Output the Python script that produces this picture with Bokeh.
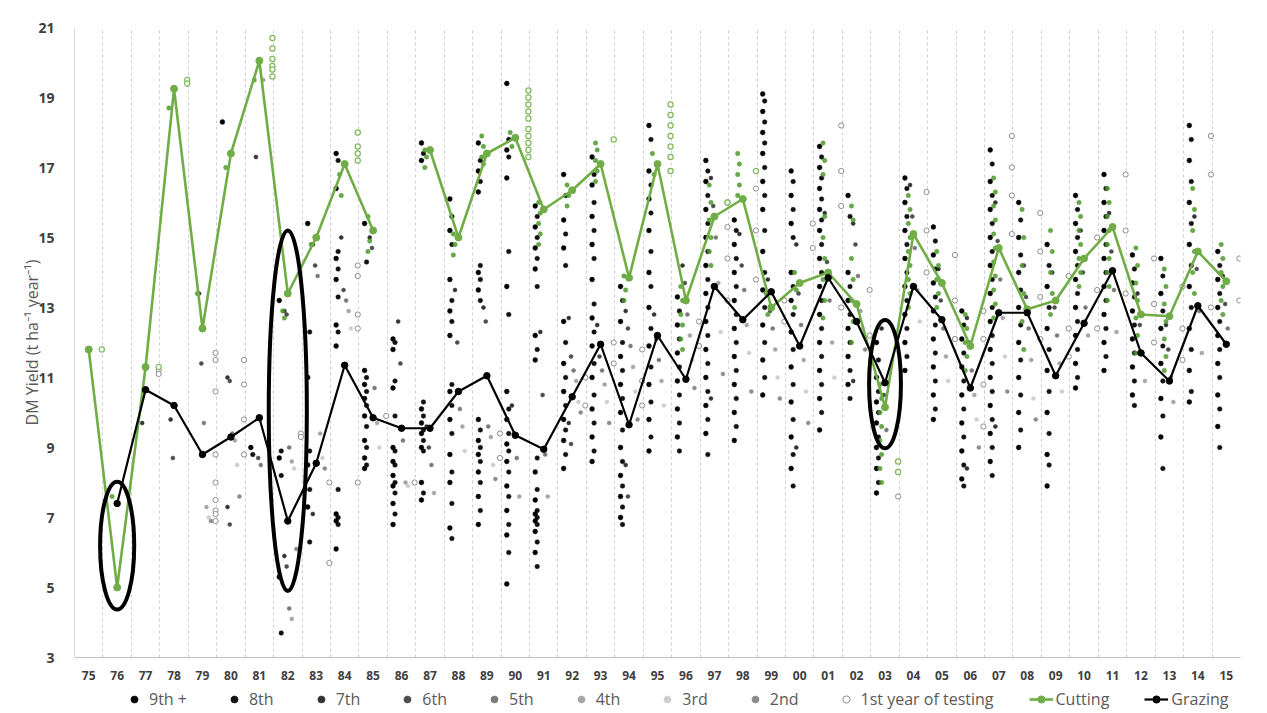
import math
from bokeh.plotting import figure
from bokeh.layouts import column
from bokeh.models import ColumnDataSource, FixedTicker, Legend, LegendItem
from bokeh.embed import file_html
from bokeh.resources import INLINE

nan = float("nan")

years = ["75", "76", "77", "78", "79", "80", "81", "82", "83", "84", "85", "86", "87", "88",
         "89", "90", "91", "92", "93", "94", "95", "96", "97", "98", "99", "00", "01", "02",
         "03", "04", "05", "06", "07", "08", "09", "10", "11", "12", "13", "14", "15"]

cutting = [11.8, 5.0, 11.3, 19.25, 12.4, 17.4, 20.05, 13.4, 15.0, 17.1, 15.2, nan, 17.5, 15.0,
           17.4, 17.85, 15.8, 16.35, 17.1, 13.85, 17.1, 13.2, 15.6, 16.1, 13.0, 13.7, 14.0, 13.1,
           10.15, 15.1, 13.7, 11.9, 14.7, 12.95, 13.2, 14.4, 15.3, 12.8, 12.75, 14.6, 13.75]

grazing = [nan, 7.4, 10.65, 10.2, 8.8, 9.3, 9.85, 6.9, 8.55, 11.35, 9.85, 9.55, 9.55, 10.6,
           11.05, 9.35, 8.95, 10.45, 11.95, 9.65, 12.2, 10.95, 13.6, 12.65, 13.45, 11.9, 13.85, 12.6,
           10.85, 13.6, 12.65, 10.7, 12.85, 12.85, 11.05, 12.55, 14.05, 11.7, 10.9, 13.05, 11.95]

# individual trial values (black dots: 9th + / 8th year of testing)
graz_dark = [
    [], [], [], [], [], [18.3], [9.0, 8.8],
    [13.2, 8.9, 8.7, 8.2, 5.3, 3.7],
    [15.4, 12.3, 11.0, 8.9, 8.5, 7.8, 7.3, 6.3],
    [17.4, 17.2, 16.4, 14.6, 14.4, 14.1, 13.8, 13.3, 12.5, 12.3, 11.9, 7.8, 7.1, 7.0, 6.9, 6.8, 6.1],
    [15.4, 14.3, 11.2, 11.0, 10.8, 10.6, 10.4, 10.2, 9.9, 9.6, 9.2, 9.0, 8.7, 8.5, 8.4],
    [12.1, 12.0, 11.8, 10.9, 10.7, 9.9, 9.0, 8.9, 8.6, 8.5, 8.2, 8.0, 7.9, 7.7, 7.4, 7.1, 6.8],
    [17.7, 17.4, 17.2, 10.3, 10.1, 9.9, 9.7, 9.5, 9.4, 9.2, 9.0, 8.9, 8.0, 7.7, 7.5],
    [16.1, 15.6, 15.2, 14.8, 13.8, 13.2, 12.9, 12.6, 12.2, 10.8, 10.6, 10.2, 9.8, 9.4, 8.8, 8.3, 8.0, 7.4, 6.7, 6.4],
    [17.7, 17.2, 16.9, 16.6, 16.3, 14.2, 14.0, 13.8, 13.5, 13.2, 9.8, 9.5, 9.2, 9.0, 8.8, 8.6, 8.3, 8.0, 7.6, 7.2, 6.8],
    [19.4, 17.8, 17.5, 17.3, 16.7, 14.6, 13.6, 12.8, 10.6, 10.1, 9.8, 9.4, 9.1, 8.9, 8.6, 8.3, 7.9, 7.6, 7.2, 6.8, 6.5, 6.0, 5.1],
    [15.9, 15.6, 15.3, 15.0, 14.7, 14.4, 14.1, 13.6, 12.2, 11.8, 11.5, 8.7, 8.3, 7.8, 7.5, 7.2, 7.1, 7.0, 6.9, 6.8, 6.6, 6.3, 6.0, 5.6],
    [16.8, 16.2, 15.5, 15.1, 14.7, 14.2, 12.6, 12.0, 11.4, 11.0, 10.6, 10.2, 9.8, 9.5, 9.2, 8.8, 8.4],
    [17.3, 16.8, 16.5, 16.0, 15.6, 15.2, 14.8, 14.4, 13.8, 13.1, 12.7, 12.3, 11.9, 11.4, 11.0, 10.5, 10.1, 9.7, 9.3, 8.9, 8.6],
    [13.6, 13.2, 12.6, 12.0, 11.6, 11.2, 10.8, 10.4, 10.0, 9.5, 9.0, 8.6, 8.2, 7.9, 7.6, 7.3, 7.0, 6.8],
    [18.2, 17.8, 16.9, 16.5, 16.1, 15.7, 15.2, 14.6, 14.0, 13.6, 13.0, 12.4, 11.9, 11.3, 10.8, 10.3, 9.8, 9.3, 8.9],
    [13.3, 12.9, 12.5, 12.1, 11.7, 11.3, 10.9, 10.5, 10.1, 9.7, 9.3, 8.9],
    [17.2, 16.9, 16.6, 16.2, 15.8, 15.4, 15.0, 14.6, 14.2, 13.8, 13.4, 13.0, 12.6, 12.2, 11.8, 11.4, 11.0, 10.6, 10.2, 9.8, 9.4, 8.8],
    [15.5, 15.2, 14.8, 14.4, 14.0, 13.6, 13.2, 12.8, 12.4, 12.0, 11.6, 11.2, 10.8, 10.4, 10.0, 9.6, 9.2],
    [19.1, 18.9, 18.6, 18.3, 18.0, 17.7, 17.4, 17.0, 16.6, 16.2, 15.8, 15.2, 14.6, 14.0, 13.5, 13.0, 12.5, 12.0, 11.5, 11.0, 10.5],
    [16.9, 16.6, 16.2, 15.8, 15.4, 15.0, 14.0, 13.6, 13.2, 12.8, 12.3, 11.8, 11.3, 10.8, 10.3, 9.8, 9.3, 8.8, 8.4, 7.9],
    [17.6, 17.3, 17.0, 16.7, 16.4, 16.1, 15.8, 15.5, 15.2, 14.8, 14.4, 14.0, 13.6, 13.2, 12.8, 12.4, 12.0, 11.6, 11.2, 10.8, 10.4, 10.0, 9.5],
    [16.2, 15.6, 14.0, 13.6, 13.2, 12.8, 12.4, 12.0, 11.6, 11.2, 10.8, 10.4],
    [12.0, 11.5, 11.0, 10.6, 10.3, 10.0, 9.7, 9.3, 9.0, 8.7, 8.4, 8.0, 7.7],
    [16.7, 16.4, 16.0, 15.6, 15.2, 14.8, 14.4, 14.0, 13.6, 13.2, 12.8, 12.4, 12.0, 11.6, 11.2],
    [15.3, 14.9, 14.5, 14.1, 13.7, 13.3, 12.9, 12.5, 12.1, 11.7, 11.3, 10.9, 10.5, 10.1, 9.8],
    [12.9, 12.5, 12.1, 11.7, 11.3, 10.9, 10.5, 10.1, 9.7, 9.3, 8.9, 8.5, 8.1, 7.9],
    [17.5, 17.1, 16.6, 16.2, 15.8, 15.4, 15.0, 14.6, 14.2, 13.8, 13.4, 13.0, 12.6, 12.2, 11.8, 11.4, 11.0, 10.6, 10.2, 9.8, 9.4, 9.0, 8.6, 8.2],
    [16.0, 15.5, 15.0, 14.5, 14.0, 13.5, 13.0, 12.5, 12.0, 11.5, 11.0, 10.5, 10.0, 9.5, 9.0],
    [14.8, 14.2, 13.6, 13.0, 12.4, 11.8, 11.2, 10.6, 10.0, 9.4, 8.8, 8.5, 7.9],
    [16.2, 15.8, 15.4, 15.0, 14.6, 14.2, 13.8, 13.4, 13.0, 12.6, 12.2, 11.8, 11.4, 11.0, 10.7],
    [16.8, 16.4, 16.0, 15.6, 15.2, 14.8, 14.4, 14.0, 13.6, 13.2, 12.8, 12.4, 12.0, 11.6, 11.2],
    [14.5, 14.1, 13.7, 13.3, 12.9, 12.5, 12.1, 11.7, 11.3, 10.9, 10.5, 10.2],
    [14.4, 13.9, 13.4, 12.9, 12.4, 11.9, 11.4, 10.9, 10.4, 9.9, 9.3, 8.4],
    [18.2, 17.8, 17.2, 16.6, 16.0, 15.4, 14.8, 14.2, 13.6, 13.0, 12.4, 11.8, 11.2, 10.6, 10.3],
    [14.6, 14.2, 13.8, 13.4, 13.0, 12.6, 12.2, 11.8, 11.4, 11.0, 10.5, 10.1, 9.6, 9.0],
]

# grey dots (7th .. 2nd year of testing)
graz_gray = [
    [], [], [9.7], [9.8, 8.7], [13.4, 11.4, 9.7, 7.3, 7.0, 6.9],
    [11.0, 10.9, 9.4, 9.2, 8.5, 7.6, 7.3, 6.8], [17.3, 8.7, 8.5, 19.5],
    [12.9, 12.8, 9.0, 8.6, 8.4, 6.1, 5.9, 5.6, 4.4, 4.1], [14.8, 14.2, 13.9, 9.4, 8.7, 8.4, 7.1],
    [15.0, 13.5, 13.2, 12.9, 12.4], [15.0, 14.7, 10.7, 9.7, 9.0], [12.6, 11.4, 9.2, 8.0, 7.9],
    [9.6, 9.0, 8.5, 7.7], [13.5, 12.0, 10.1, 9.6, 8.9], [13.0, 12.6, 9.6, 9.3, 8.5, 8.1],
    [10.2, 9.4, 8.7, 7.6], [12.3, 10.5, 8.8, 7.6], [12.7, 11.6, 11.2, 10.9, 10.3, 10.0, 9.7, 9.1],
    [12.5, 11.6, 11.2, 10.8, 10.3, 9.7], [12.9, 12.4, 11.9, 11.3, 10.6, 9.8, 8.5, 7.6],
    [12.8, 12.1, 11.5, 10.9, 10.2], [14.2, 13.7, 12.8, 12.2, 11.5, 10.7],
    [16.7, 15.9, 15.0, 13.7, 12.3, 11.1, 10.4], [15.1, 14.2, 13.5, 12.5, 11.7, 10.6],
    [13.8, 12.9, 12.4, 11.8, 11.0, 10.4], [14.8, 13.4, 12.5, 11.5, 10.6, 9.7, 9.0],
    [15.7, 14.3, 13.2, 12.0, 11.0], [15.4, 14.8, 13.9, 12.9, 12.4, 11.8, 10.9],
    [12.4, 10.5, 9.5], [16.5, 15.6, 14.7, 13.5, 12.6], [14.1, 13.2, 12.4, 11.6, 10.9],
    [12.7, 12.0, 11.2, 10.5, 9.8, 9.0, 8.4], [16.0, 14.9, 13.8, 12.7, 11.6, 10.6, 9.6],
    [14.2, 13.3, 12.4, 11.5, 10.4, 9.8], [14.0, 13.0, 12.2, 11.4, 10.6],
    [15.2, 14.0, 13.0, 12.2], [15.7, 14.6, 13.5, 12.3], [13.4, 12.5, 11.7, 10.9],
    [12.5, 11.8, 11.0, 10.3], [15.6, 14.1, 12.9, 11.7], [13.9, 13.1, 12.4],
]

# open circles (1st year of testing)
graz_first = [
    [], [], [11.2, 11.1], [], [11.7, 11.5, 10.6, 8.8, 8.0, 7.5, 7.2, 7.1, 6.9],
    [11.5, 10.8, 9.8, 8.8], [], [9.4, 9.3], [8.0, 5.7], [14.2, 13.9, 12.8, 12.4, 8.0],
    [9.9], [8.0], [], [], [9.4, 8.7], [], [], [11.0, 10.2], [12.0, 11.4], [11.8, 10.9, 10.2],
    [], [12.6, 11.9], [16.0, 15.3, 14.4, 13.2], [16.4, 15.2, 13.8], [13.2, 12.6], [15.4, 14.7],
    [18.2, 16.9, 15.9, 13.0], [13.5, 12.2], [7.6], [16.3, 15.2, 14.0], [14.5, 13.2, 12.1],
    [12.9, 12.1, 10.8, 9.6], [17.9, 17.0, 16.2, 15.1], [15.7, 14.6, 13.3, 12.1],
    [13.9, 12.4, 11.6], [15.0, 13.5, 12.4], [16.8, 15.2, 13.4], [14.4, 13.1, 12.0],
    [13.6, 12.4, 11.5], [17.9, 16.8, 13.0], [14.4, 13.2],
]

# green dots (cutting trials)
cut_dots = [
    [], [7.6], [], [18.7], [13.4], [17.0], [19.5], [12.9, 12.7], [14.8], [16.8, 16.2],
    [15.6, 14.9, 14.6], [], [17.5, 17.3, 17.0], [15.1, 14.8, 14.5], [17.9, 17.6, 17.3, 17.1],
    [18.0, 17.6], [16.0, 15.7, 15.4, 15.1, 14.8], [16.5, 16.2, 15.9], [17.7, 17.5, 17.2, 16.9, 16.6],
    [13.9, 13.5, 13.2], [17.4, 16.8], [13.6, 13.2, 12.8, 12.5, 12.1, 11.8],
    [16.5, 16.0, 15.5, 15.0, 14.6, 14.2], [17.4, 17.1, 16.8, 16.5, 16.2], [13.4, 12.8],
    [14.0, 13.5, 13.0], [17.7, 17.2, 16.8, 15.6, 15.0, 14.4, 13.8, 13.2, 12.7],
    [15.9, 15.5, 14.4, 13.8, 13.2, 12.6, 12.0], [10.8, 10.4, 10.0, 9.6, 9.2, 8.8, 8.4, 8.0],
    [16.2, 15.8, 15.4, 15.0, 14.6, 14.2, 13.8, 13.4, 13.0], [14.6, 14.2, 13.8, 13.4, 13.0],
    [12.8, 12.4, 12.0, 11.6, 11.2], [16.7, 16.3, 15.9, 15.5, 15.1, 14.7, 14.3, 13.9, 13.5, 13.1, 12.7],
    [15.8, 15.0, 14.2, 13.4, 12.6, 11.8], [15.2, 14.6, 14.0, 13.4, 12.8],
    [16.0, 15.6, 15.2, 14.8, 14.4, 14.0, 13.6], [16.4, 16.0, 15.6, 15.2, 14.8, 14.4, 14.0, 13.6, 13.2],
    [14.7, 14.2, 13.7, 13.2, 12.7, 12.2, 11.7], [14.1, 13.6, 13.1, 12.6, 12.1, 11.6, 11.2],
    [16.4, 15.8, 15.2, 14.6, 14.0, 13.4], [14.8, 14.4, 14.0, 13.6, 13.2, 12.8],
]

# green open circles (cutting, 1st year of testing)
cut_first = [
    [11.8], [], [11.3], [19.5, 19.4], [], [], [20.7, 20.4, 20.1, 19.9, 19.8, 19.6], [], [],
    [18.0, 17.6, 17.4, 17.2], [], [], [], [], [], [19.2, 19.0, 18.8, 18.6, 18.4, 18.1, 17.9, 17.7, 17.5, 17.3],
    [], [], [17.8], [], [18.8, 18.5, 18.2, 17.9, 17.6, 17.3, 16.9], [], [16.0], [16.9], [], [],
    [], [], [8.6, 8.3], [], [], [], [], [], [], [], [], [], [], [], [],
]

# highlighted years (ellipses)
hl_years = ["76", "82", "03"]
hl_low = [4.37, 4.9, 8.98]
hl_high = [8.02, 15.2, 12.64]
hl_width = [1.2, 1.34, 1.12]

legend_labels = ["9th +", "8th", "7th", "6th", "5th", "4th", "3rd", "2nd",
                 "1st year of testing", "Cutting", "Grazing"]

FONT = "Open Sans"
n = len(years)
W = 1262

p = figure(width=W, height=682, x_range=(-0.5, n - 0.5), y_range=(3, 21),
           output_backend="svg", toolbar_location=None,
           min_border_left=74, min_border_right=22, min_border_top=27, min_border_bottom=24)
p.outline_line_color = None
p.background_fill_color = "white"

# axes
p.xaxis.ticker = FixedTicker(ticks=list(range(n)))
p.xaxis.major_label_overrides = {i: y for i, y in enumerate(years)}
p.yaxis.ticker = FixedTicker(ticks=list(range(3, 22, 2)))
for ax in (p.xaxis[0], p.yaxis[0]):
    ax.major_tick_line_color = None
    ax.minor_tick_line_color = None
    ax.major_label_text_font = FONT
    ax.major_label_text_font_style = "bold"
    ax.major_label_text_color = "#404040"
p.xaxis.axis_line_color = "#bfbfbf"
p.yaxis.axis_line_color = "#d9d9d9"
p.xaxis.major_label_text_font_size = "12px"
p.yaxis.major_label_text_font_size = "14px"
p.xaxis.major_label_standoff = 7
p.yaxis.major_label_standoff = 14
p.yaxis.axis_label = "DM Yield (t ha\u207b\u00b9 year\u207b\u00b9)"
p.yaxis.axis_label_text_font = FONT
p.yaxis.axis_label_text_font_size = "16px"
p.yaxis.axis_label_text_font_style = "normal"
p.yaxis.axis_label_text_color = "#595959"
p.yaxis.axis_label_standoff = -8

# grid
p.ygrid.visible = False
p.xgrid.ticker = FixedTicker(ticks=[i + 0.5 for i in range(n)])
p.xgrid.grid_line_color = "#cfcfcf"
p.xgrid.grid_line_dash = "3 3"
p.xgrid.grid_line_width = 1

# scatter groups
groups = {
    "9th +": dict(off=-0.30, color="#000000", size=4.8, fill=True),
    "8th": dict(off=-0.23, color="#111111", size=4.6, fill=True),
    "7th": dict(off=-0.12, color="#333333", size=4.0, fill=True),
    "6th": dict(off=-0.04, color="#4d4d4d", size=4.0, fill=True),
    "5th": dict(off=0.05, color="#7a7a7a", size=4.0, fill=True),
    "4th": dict(off=0.14, color="#a6a6a6", size=4.0, fill=True),
    "3rd": dict(off=0.22, color="#cfcfcf", size=4.0, fill=True),
    "2nd": dict(off=0.30, color="#8c8c8c", size=4.0, fill=True),
    "1st year of testing": dict(off=0.46, color="#8c8c8c", size=5.2, fill=False),
}
gray_groups = ["7th", "6th", "5th", "4th", "3rd", "2nd"]
pts = {g: {"x": [], "y": []} for g in groups}
for i in range(n):
    for k, v in enumerate(graz_dark[i]):
        g = "9th +" if k % 2 == 0 else "8th"
        pts[g]["x"].append(i + groups[g]["off"]); pts[g]["y"].append(v)
    for k, v in enumerate(graz_gray[i]):
        g = gray_groups[k % len(gray_groups)]
        pts[g]["x"].append(i + groups[g]["off"]); pts[g]["y"].append(v)
    for v in graz_first[i]:
        g = "1st year of testing"
        pts[g]["x"].append(i + groups[g]["off"]); pts[g]["y"].append(v)


def add_group(fig, g, data):
    st = groups[g]
    if st["fill"]:
        return fig.scatter("x", "y", source=ColumnDataSource(data), size=st["size"],
                           fill_color=st["color"], line_color=st["color"], line_width=0.5)
    return fig.scatter("x", "y", source=ColumnDataSource(data), size=st["size"],
                       fill_color="white", line_color=st["color"], line_width=1)


for g in ["3rd", "4th", "2nd", "5th", "6th", "7th", "1st year of testing", "8th", "9th +"]:
    add_group(p, g, pts[g])

# green cutting trial points
gx, gy, ox, oy = [], [], [], []
for i in range(n):
    for k, v in enumerate(cut_dots[i]):
        gx.append(i - 0.18 + (0.06 if k % 2 else 0.0)); gy.append(v)
    for v in cut_first[i]:
        ox.append(i + 0.46); oy.append(v)
p.scatter(gx, gy, size=4.4, fill_color="#4f9a2c", line_color="#4f9a2c", line_width=0.5, fill_alpha=0.85)
p.scatter(ox, oy, size=5.2, fill_color="white", line_color="#7fb85a", line_width=1.2)

# mean lines
xs = list(range(n))
CUT_C, GRZ_C = "#70AD47", "#000000"
p.line(xs, cutting, line_color=CUT_C, line_width=2.6)
p.scatter(xs, cutting, size=7, fill_color=CUT_C, line_color=CUT_C)
p.line(xs, grazing, line_color=GRZ_C, line_width=2.2)
p.scatter(xs, grazing, size=6.5, fill_color=GRZ_C, line_color=GRZ_C)

# ellipses around highlighted years
ex = [years.index(y) for y in hl_years]
ey = [(lo + hi) / 2 for lo, hi in zip(hl_low, hl_high)]
eh = [hi - lo for lo, hi in zip(hl_low, hl_high)]
p.ellipse(ex, ey, width=hl_width, height=eh, fill_color=None, line_color="black", line_width=4)

# legend strip below the chart (legend proxies sit outside the strip's visible range)
lg = figure(width=W, height=29, x_range=(0, 1), y_range=(0, 1), output_backend="svg",
            toolbar_location=None, min_border=0)
lg.axis.visible = False
lg.grid.visible = False
lg.outline_line_color = None
proxy = {"x": [-5.0], "y": [-5.0]}
items = []
for g in legend_labels[:9]:
    items.append(LegendItem(label=g, renderers=[add_group(lg, g, proxy)]))
cl = lg.line("x", "y", source=ColumnDataSource(proxy), line_color=CUT_C, line_width=2.6)
cm = lg.scatter("x", "y", source=ColumnDataSource(proxy), size=6, fill_color=CUT_C, line_color=CUT_C)
gl = lg.line("x", "y", source=ColumnDataSource(proxy), line_color=GRZ_C, line_width=2.2)
gm = lg.scatter("x", "y", source=ColumnDataSource(proxy), size=6, fill_color=GRZ_C, line_color=GRZ_C)
items.append(LegendItem(label=legend_labels[9], renderers=[cl, cm]))
items.append(LegendItem(label=legend_labels[10], renderers=[gl, gm]))
legend = Legend(items=items, orientation="horizontal", location=(48, 1),
                border_line_color=None, background_fill_alpha=0,
                label_text_font=FONT, label_text_font_size="16px", label_text_color="#595959",
                glyph_width=24, glyph_height=18, label_height=18, label_standoff=3,
                spacing=35, padding=0, margin=0)
lg.add_layout(legend, "center")

open("out.html", "w").write(file_html(column(p, lg, spacing=0), INLINE))
